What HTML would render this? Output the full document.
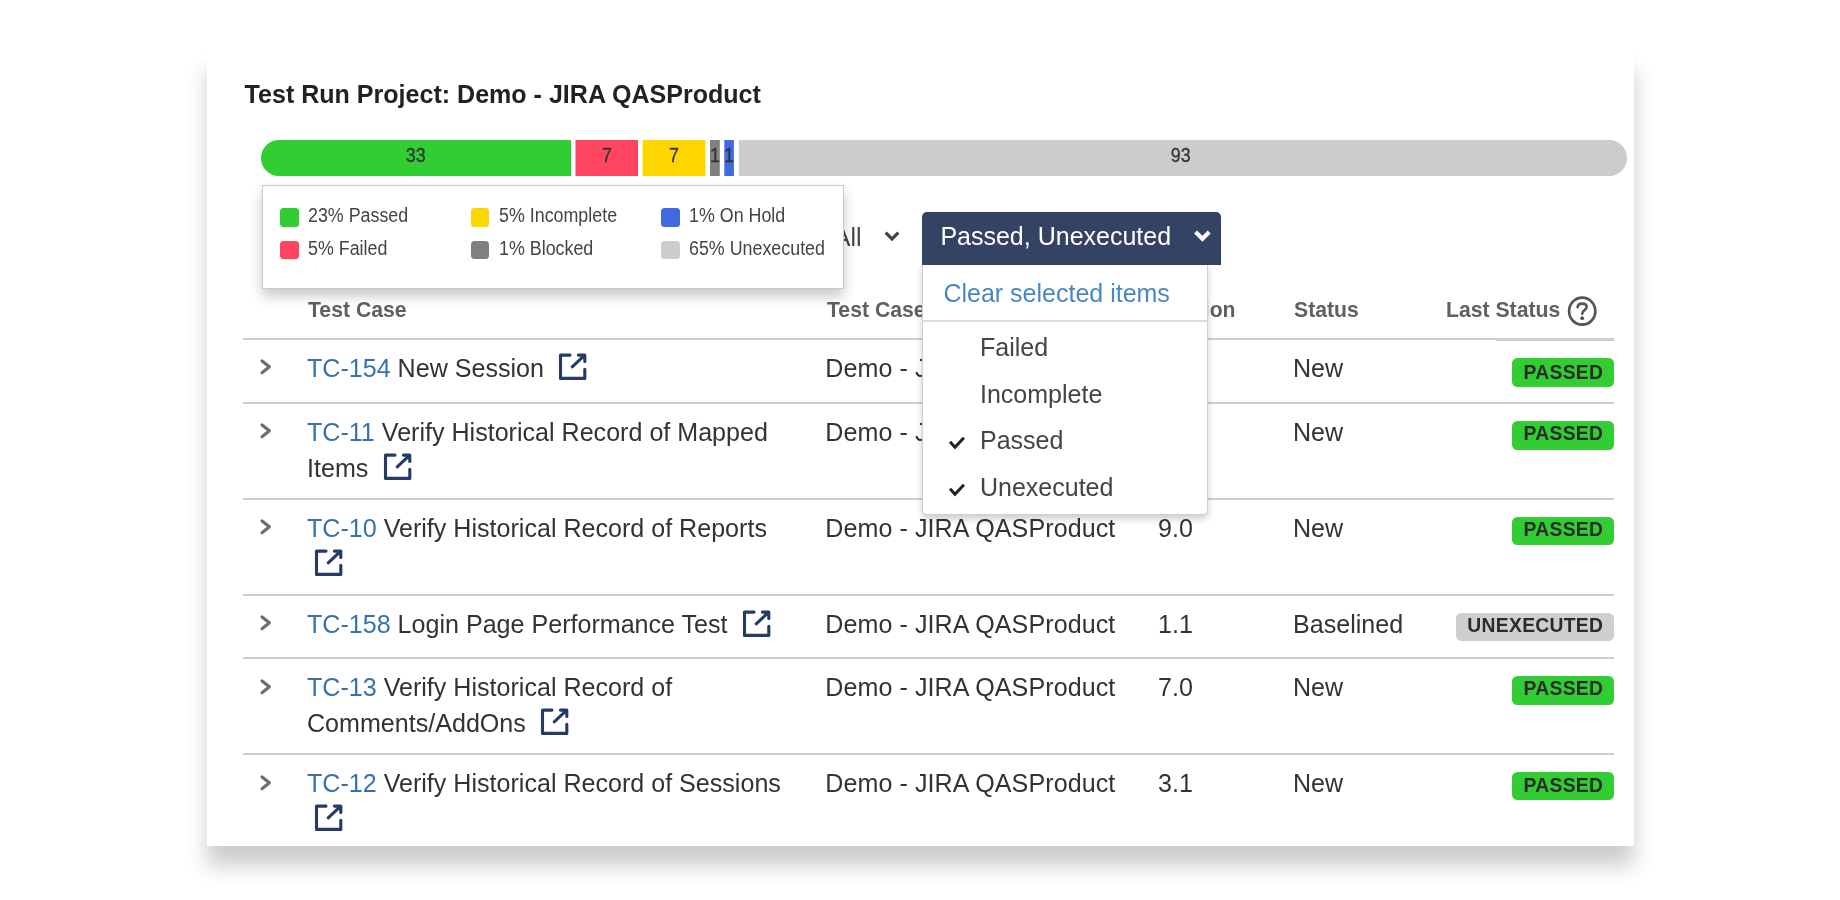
<!DOCTYPE html>
<html>
<head>
<meta charset="utf-8">
<title>Test Run</title>
<style>
*{box-sizing:border-box;margin:0;padding:0}
html,body{width:1840px;height:900px;overflow:hidden;background:#fff}
body{font-family:"Liberation Sans",sans-serif;color:#333;position:relative}
.abs{position:absolute}
#w{position:absolute;left:0;top:0;width:1840px;height:900px;will-change:transform}
#card{left:207px;top:50px;width:1427px;height:796px;background:#fff;box-shadow:0 20px 20px rgba(0,0,0,.2)}
#title{left:244.6px;top:79px;font-size:25.05px;font-weight:bold;line-height:30px;color:#222;white-space:nowrap}
#bar{left:261px;top:140px;width:1366px;height:36px}
#bar div{position:absolute;top:0;height:36px;font-size:21px;line-height:29.2px;text-align:center;color:#333}
#bar b{display:inline-block;font-weight:normal;-webkit-text-stroke:.3px #333;transform:scaleX(.85);margin:0 -4px}
#legend{left:262px;top:185px;width:582px;height:104px;background:#fff;border:1px solid #c9c9c9;box-shadow:0 7px 12px rgba(0,0,0,.22)}
#legend i{position:absolute;width:18.6px;height:18.6px;border-radius:3.5px}
#legend span{position:absolute;font-size:19.6px;line-height:22px;white-space:nowrap;color:#444;transform:scaleX(.911);transform-origin:0 0}
#btn{left:922px;top:212px;width:299px;height:53px;background:#344263;border-radius:5px 5px 0 0;color:#fff;font-size:25px;line-height:30px}
#menu{left:922px;top:264px;width:286px;height:250.5px;background:#fff;border:1px solid #d0d0d0;border-radius:0 0 5px 5px;box-shadow:0 4px 7px rgba(0,0,0,.2)}
#menu span{position:absolute;font-size:25px;line-height:30px;white-space:nowrap;color:#444}
.th{font-size:22.2px;font-weight:bold;line-height:26px;color:#606060;white-space:nowrap;transform:scaleX(.955);transform-origin:0 0}
.hr{height:2px;background:#cdcdcd;left:243px;width:1371px}
.t{font-size:25.08px;line-height:36px;color:#333;white-space:nowrap}
.t a{color:#3572b0;text-decoration:none}
.badge{right:226px;height:28.5px;border-radius:5.5px;background:#32cd32;color:#2b2b2b;font-size:19.3px;font-weight:bold;letter-spacing:.3px;line-height:27px;padding:0 10.8px 0 11.8px;white-space:nowrap}
.badge.un{background:#cfcfcf}
svg{position:absolute;overflow:visible}
.ext{display:inline-block;position:relative;width:28px;height:28px;vertical-align:-4.6px;margin-left:15.3px}
</style>
</head>
<body>
<div id="w">
<div id="card" class="abs"></div>
<div id="title" class="abs">Test Run Project: Demo - JIRA QASProduct</div>

<svg class="abs" style="left:261px;top:140px" width="1366" height="36" viewBox="0 0 1366 36">
  <clipPath id="bc"><rect x="0" y="0" width="1366" height="36" rx="18" ry="18"/></clipPath>
  <g clip-path="url(#bc)">
    <rect x="0" y="0" width="310" height="36" fill="#32cd32"/>
    <rect x="314.5" y="0" width="62.5" height="36" fill="#ff4560"/>
    <rect x="381.6" y="0" width="62.8" height="36" fill="#ffd700"/>
    <rect x="449" y="0" width="9.8" height="36" fill="#808080"/>
    <rect x="463.3" y="0" width="9.6" height="36" fill="#4169e1"/>
    <rect x="477.8" y="0" width="889" height="36" fill="#cccccc"/>
  </g>
</svg>
<div id="bar" class="abs">
  <div style="left:0;width:310px"><b>33</b></div>
  <div style="left:314.5px;width:62.5px"><b>7</b></div>
  <div style="left:381.6px;width:62.8px"><b>7</b></div>
  <div style="left:449px;width:9.8px"><b>1</b></div>
  <div style="left:463.3px;width:9.6px"><b>1</b></div>
  <div style="left:477.8px;width:883px"><b>93</b></div>
</div>

<!-- table header -->
<div class="abs th" style="left:308px;top:297.2px">Test Case</div>
<div class="abs th" style="left:827px;top:297.2px">Test Case Project</div>
<div class="abs th" style="left:1159px;top:297.2px">Version</div>
<div class="abs th" style="left:1294px;top:297.2px">Status</div>
<div class="abs th" style="left:1446px;top:297.2px">Last Status</div>
<svg class="abs" style="left:1567px;top:296px" width="30" height="30" viewBox="0 0 30 30">
  <ellipse cx="15.2" cy="15.2" rx="13.1" ry="13.5" fill="none" stroke="#555" stroke-width="2.7"/>
  <path d="M10.6 11.2 C10.8 8.4 13 7.6 15.2 7.6 C17.6 7.6 19.7 8.8 19.7 11 C19.7 14 15.2 14 15.2 17.8" fill="none" stroke="#555" stroke-width="2.6" stroke-linecap="round"/>
  <circle cx="15.2" cy="22.2" r="1.9" fill="#555"/>
</svg>
<div class="abs hr" style="top:338px;width:1253px"></div>
<div class="abs hr" style="top:338px;left:1496px;width:118px;height:3px"></div>

<div id="rows">
<svg class="abs" style="left:260px;top:359.1px" width="12" height="16" viewBox="0 0 12 16"><path d="M2 1.9 L9.4 7.8 L2 13.7" fill="none" stroke="#6e6e6e" stroke-width="3.2" stroke-linecap="round" stroke-linejoin="round"/></svg>
<div class="abs t" style="left:307px;top:349.5px"><a>TC-154</a> New Session<span class="ext"><svg width="28" height="28" viewBox="0 0 28 28"><path d="M11 2.1 H1.5 V25.4 H25.8 V16.2 M13.2 13.8 L25.2 2.7 M19.4 2.1 H25.8 V8.5" fill="none" stroke="#253b66" stroke-width="3.1" stroke-linecap="round" stroke-linejoin="round"/></svg></span></div>
<div class="abs t" style="left:825.3px;top:349.5px;letter-spacing:.07px">Demo - JIRA QASProduct</div>
<div class="abs t" style="left:1293px;top:349.5px">New</div>
<div class="abs badge" style="top:357.8px;height:28.8px;line-height:29.0px">PASSED</div>
<div class="abs hr" style="top:402px"></div>
<svg class="abs" style="left:260px;top:423.4px" width="12" height="16" viewBox="0 0 12 16"><path d="M2 1.9 L9.4 7.8 L2 13.7" fill="none" stroke="#6e6e6e" stroke-width="3.2" stroke-linecap="round" stroke-linejoin="round"/></svg>
<div class="abs t" style="left:307px;top:413.6px"><a>TC-11</a> Verify Historical Record of Mapped<br>Items<span class="ext"><svg width="28" height="28" viewBox="0 0 28 28"><path d="M11 2.1 H1.5 V25.4 H25.8 V16.2 M13.2 13.8 L25.2 2.7 M19.4 2.1 H25.8 V8.5" fill="none" stroke="#253b66" stroke-width="3.1" stroke-linecap="round" stroke-linejoin="round"/></svg></span></div>
<div class="abs t" style="left:825.3px;top:413.6px;letter-spacing:.07px">Demo - JIRA QASProduct</div>
<div class="abs t" style="left:1293px;top:413.6px">New</div>
<div class="abs badge" style="top:420.8px;height:28.8px;line-height:26.6px">PASSED</div>
<div class="abs hr" style="top:498px"></div>
<svg class="abs" style="left:260px;top:519.4px" width="12" height="16" viewBox="0 0 12 16"><path d="M2 1.9 L9.4 7.8 L2 13.7" fill="none" stroke="#6e6e6e" stroke-width="3.2" stroke-linecap="round" stroke-linejoin="round"/></svg>
<div class="abs t" style="left:307px;top:509.6px"><a>TC-10</a> Verify Historical Record of Reports<br><span class="ext" style="margin-left:8.3px"><svg width="28" height="28" viewBox="0 0 28 28"><path d="M11 2.1 H1.5 V25.4 H25.8 V16.2 M13.2 13.8 L25.2 2.7 M19.4 2.1 H25.8 V8.5" fill="none" stroke="#253b66" stroke-width="3.1" stroke-linecap="round" stroke-linejoin="round"/></svg></span></div>
<div class="abs t" style="left:825.3px;top:509.6px;letter-spacing:.07px">Demo - JIRA QASProduct</div>
<div class="abs t" style="left:1158px;top:509.6px">9.0</div>
<div class="abs t" style="left:1293px;top:509.6px">New</div>
<div class="abs badge" style="top:516.7px;height:28.8px;line-height:26.4px">PASSED</div>
<div class="abs hr" style="top:594px"></div>
<svg class="abs" style="left:260px;top:614.9px" width="12" height="16" viewBox="0 0 12 16"><path d="M2 1.9 L9.4 7.8 L2 13.7" fill="none" stroke="#6e6e6e" stroke-width="3.2" stroke-linecap="round" stroke-linejoin="round"/></svg>
<div class="abs t" style="left:307px;top:606.1px"><a>TC-158</a> Login Page Performance Test<span class="ext"><svg width="28" height="28" viewBox="0 0 28 28"><path d="M11 2.1 H1.5 V25.4 H25.8 V16.2 M13.2 13.8 L25.2 2.7 M19.4 2.1 H25.8 V8.5" fill="none" stroke="#253b66" stroke-width="3.1" stroke-linecap="round" stroke-linejoin="round"/></svg></span></div>
<div class="abs t" style="left:825.3px;top:606.1px;letter-spacing:.07px">Demo - JIRA QASProduct</div>
<div class="abs t" style="left:1158px;top:606.1px">1.1</div>
<div class="abs t" style="left:1293px;top:606.1px">Baselined</div>
<div class="abs badge un" style="top:613.1px;height:27.8px;line-height:25.0px">UNEXECUTED</div>
<div class="abs hr" style="top:657px"></div>
<svg class="abs" style="left:260px;top:678.5px" width="12" height="16" viewBox="0 0 12 16"><path d="M2 1.9 L9.4 7.8 L2 13.7" fill="none" stroke="#6e6e6e" stroke-width="3.2" stroke-linecap="round" stroke-linejoin="round"/></svg>
<div class="abs t" style="left:307px;top:668.7px"><a>TC-13</a> Verify Historical Record of<br>Comments/AddOns<span class="ext"><svg width="28" height="28" viewBox="0 0 28 28"><path d="M11 2.1 H1.5 V25.4 H25.8 V16.2 M13.2 13.8 L25.2 2.7 M19.4 2.1 H25.8 V8.5" fill="none" stroke="#253b66" stroke-width="3.1" stroke-linecap="round" stroke-linejoin="round"/></svg></span></div>
<div class="abs t" style="left:825.3px;top:668.7px;letter-spacing:.07px">Demo - JIRA QASProduct</div>
<div class="abs t" style="left:1158px;top:668.7px">7.0</div>
<div class="abs t" style="left:1293px;top:668.7px">New</div>
<div class="abs badge" style="top:675.8px;height:28.8px;line-height:26.2px">PASSED</div>
<div class="abs hr" style="top:753px"></div>
<svg class="abs" style="left:260px;top:774.5px" width="12" height="16" viewBox="0 0 12 16"><path d="M2 1.9 L9.4 7.8 L2 13.7" fill="none" stroke="#6e6e6e" stroke-width="3.2" stroke-linecap="round" stroke-linejoin="round"/></svg>
<div class="abs t" style="left:307px;top:764.7px"><a>TC-12</a> Verify Historical Record of Sessions<br><span class="ext" style="margin-left:8.3px"><svg width="28" height="28" viewBox="0 0 28 28"><path d="M11 2.1 H1.5 V25.4 H25.8 V16.2 M13.2 13.8 L25.2 2.7 M19.4 2.1 H25.8 V8.5" fill="none" stroke="#253b66" stroke-width="3.1" stroke-linecap="round" stroke-linejoin="round"/></svg></span></div>
<div class="abs t" style="left:825.3px;top:764.7px;letter-spacing:.07px">Demo - JIRA QASProduct</div>
<div class="abs t" style="left:1158px;top:764.7px">3.1</div>
<div class="abs t" style="left:1293px;top:764.7px">New</div>
<div class="abs badge" style="top:771.7px;height:28.8px;line-height:27.6px">PASSED</div>
</div><!--/rows-->

<!-- "All" select partly hidden by legend -->
<div class="abs t" style="left:833.7px;top:219.3px;color:#444">All</div>
<svg class="abs" style="left:884px;top:231px" width="16" height="11" viewBox="0 0 16 11">
  <path d="M1.7 1.7 L8 8 L14.3 1.7" fill="none" stroke="#444" stroke-width="3.2" stroke-linejoin="miter"/>
</svg>

<div id="legend" class="abs">
  <i style="left:17.1px;top:22px;background:#32cd32"></i><span style="left:45px;top:18.2px">23% Passed</span>
  <i style="left:17.1px;top:54.6px;background:#ff4560"></i><span style="left:45px;top:50.5px">5% Failed</span>
  <i style="left:207.5px;top:22px;background:#ffd700"></i><span style="left:235.5px;top:18.2px">5% Incomplete</span>
  <i style="left:207.5px;top:54.6px;background:#808080"></i><span style="left:235.5px;top:50.5px">1% Blocked</span>
  <i style="left:398.3px;top:22px;background:#4169e1"></i><span style="left:426px;top:18.2px">1% On Hold</span>
  <i style="left:398.3px;top:54.6px;background:#cccccc"></i><span style="left:426px;top:50.5px">65% Unexecuted</span>
</div>

<div id="menu" class="abs">
  <span style="left:20.4px;top:12.5px;color:#4a86c5">Clear selected items</span>
  <div class="abs" style="left:0;top:55px;width:284px;height:2px;background:#dcdcdc"></div>
  <span style="left:57px;top:67px">Failed</span>
  <span style="left:57px;top:114px">Incomplete</span>
  <span style="left:57px;top:160px">Passed</span>
  <span style="left:57px;top:207px">Unexecuted</span>
  <svg style="left:26px;top:172px" width="18" height="14" viewBox="0 0 18 14"><path d="M1 4.8 L6 10.2 L14.9 0.8" fill="none" stroke="#222" stroke-width="3"/></svg>
  <svg style="left:26px;top:218.6px" width="18" height="14" viewBox="0 0 18 14"><path d="M1 4.8 L6 10.2 L14.9 0.8" fill="none" stroke="#222" stroke-width="3"/></svg>
</div>
<div id="btn" class="abs">
  <span class="abs" style="left:18.4px;top:8.5px;white-space:nowrap">Passed, Unexecuted</span>
  <svg style="left:272px;top:18px" width="17" height="13" viewBox="0 0 17 13"><path d="M1.6 2 L8.4 8.8 L15.2 2" fill="none" stroke="#fff" stroke-width="4.2"/></svg>
</div>
</div>
</body>
</html>
